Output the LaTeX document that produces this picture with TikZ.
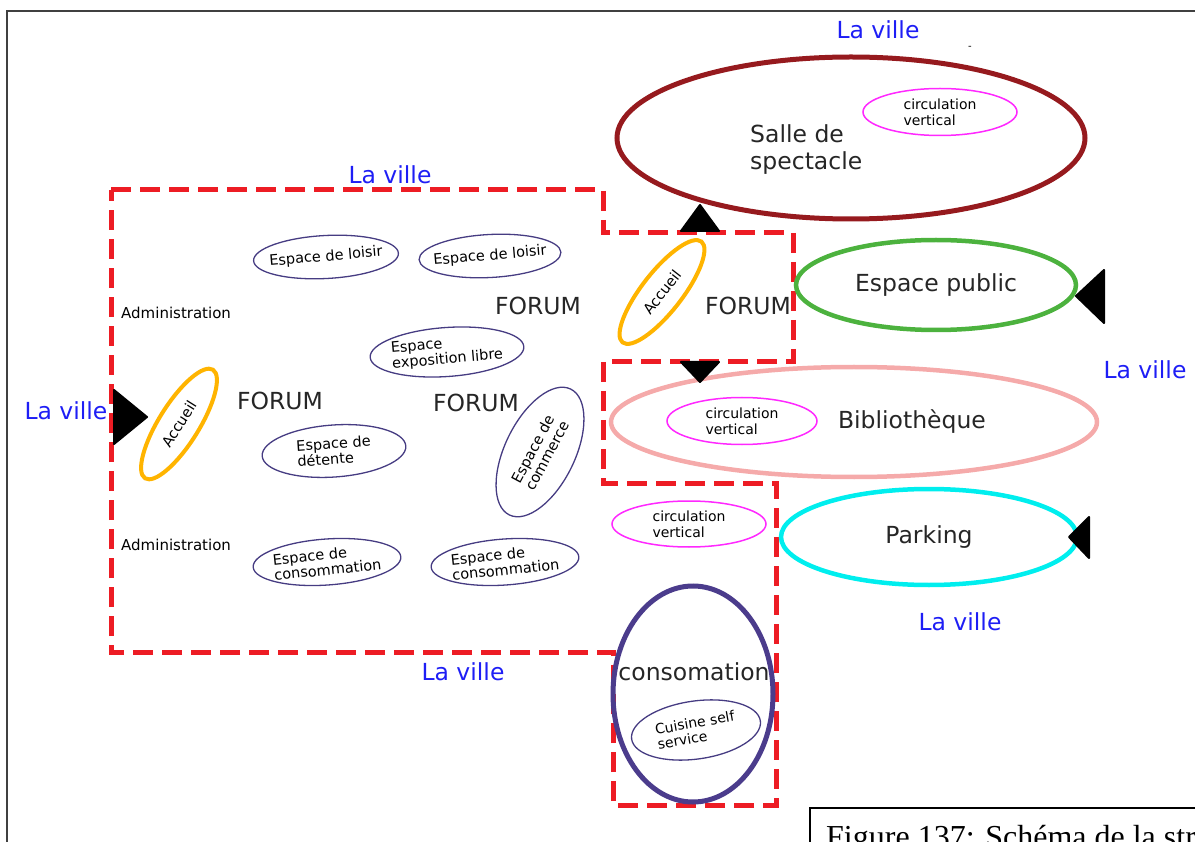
\documentclass[tikz,border=0pt]{standalone}
\usepackage{fontspec}
\setmainfont{DejaVu Sans}
\newfontfamily\capfont{Liberation Serif}
\usetikzlibrary{shapes.geometric}
\definecolor{villeblue}{RGB}{30,30,245}
\definecolor{boundred}{RGB}{237,28,36}
\definecolor{salle}{RGB}{150,26,30}
\definecolor{pubgreen}{RGB}{76,178,62}
\definecolor{bibpink}{RGB}{245,170,170}
\definecolor{parkcyan}{RGB}{0,238,238}
\definecolor{conspurple}{RGB}{75,60,140}
\definecolor{subblue}{RGB}{70,60,130}
\definecolor{accorange}{RGB}{255,180,0}
\definecolor{circmag}{RGB}{255,40,255}
\begin{document}
\begin{tikzpicture}[x=1pt,y=-1pt,
  lbl/.style={text=villeblue, font=\fontsize{23.5}{25}\selectfont, inner sep=0pt},
  big/.style={font=\fontsize{23.5}{27}\selectfont, text=black!85, inner sep=0pt},
  zone/.style={ellipse, draw, inner sep=0pt, line width=4.5pt, font=\fontsize{23.5}{27}\selectfont, text=black!85},
  subE/.style={ellipse, draw=subblue, line width=1.3pt, inner sep=0pt},
  subT/.style={inner sep=0pt, align=left, font=\fontsize{14.5}{15.5}\selectfont},
  circ/.style={ellipse, draw=circmag, line width=1.5pt, inner sep=0pt, align=left, font=\fontsize{14}{16}\selectfont},
  acc/.style={ellipse, draw=accorange, line width=4pt, inner sep=0pt, font=\fontsize{14.5}{15}\selectfont},
  small/.style={font=\fontsize{15}{16}\selectfont, inner sep=0pt},
  entry/.style={fill=black, draw=black, line width=2pt, line join=round},
  boundary/.style={draw=boundred, line width=5pt, dash pattern=on 20pt off 9pt},
]
\useasboundingbox (0,0) rectangle (1195,842);
\clip (0,0) rectangle (1195,842);

% outer frame
\draw[line width=2pt, black!75] (7,842) -- (7,11) -- (1195,11);

% red dashed boundary
\draw[boundary] (111,190) -- (603,190) -- (603,233) -- (793,233) -- (793,362)
  -- (603,362) -- (603,483) -- (776,483) -- (776,805) -- (613,805) -- (613,652)
  -- (111,652) -- cycle;

% labels "La ville"
\node[lbl] (v1) at (878,30) {La ville};
\node[lbl] (v2) at (390,175) {La ville};
\node[lbl] (v3) at (66,411) {La ville};
\node[lbl] (v4) at (1145,370) {La ville};
\node[lbl] (v5) at (960,622) {La ville};
\node[lbl] (v6) at (463,672) {La ville};
\node[font=\fontsize{10}{10}\selectfont, inner sep=0pt] (dashmark) at (970,48) {-};

% Salle de spectacle
\node[zone, draw=salle, line width=5pt, minimum width=468, minimum height=162] (salle) at (851,138) {};
\node[big, align=left, anchor=west] (salleT) at (750,150) {Salle de\\spectacle};
\node[circ, minimum width=154, minimum height=47] (cv1) at (940,112) {circulation\\vertical};

% Espace public
\node[zone, draw=pubgreen, minimum width=280, minimum height=90] (pub) at (936,285) {Espace public};

% Bibliotheque
\node[zone, draw=bibpink, minimum width=486, minimum height=110] (bib) at (854,422) {};
\node[big] (bibT) at (912,422) {Bibliothèque};
\node[circ, minimum width=150, minimum height=47] (cv2) at (742,421) {circulation\\vertical};

% Parking
\node[zone, draw=parkcyan, minimum width=296, minimum height=96] (park) at (929,537) {Parking};
\node[circ, minimum width=154, minimum height=46] (cv3) at (689,524) {circulation\\vertical};

% consomation
\node[zone, draw=conspurple, line width=5pt, minimum width=160, minimum height=216] (cons) at (693,694) {};
\node[big] (consT) at (694,672) {consomation};
\node[subE, rotate=8, minimum width=130, minimum height=58] (cuis) at (696,730) {};
\node[subT, rotate=10, font=\fontsize{14}{15}\selectfont] (cuisT) at (cuis) {Cuisine self\\service};

% entrances
\filldraw[entry] (681,231) -- (700,205) -- (719,231) -- cycle;
\filldraw[entry] (681,362) -- (719,362) -- (700,382) -- cycle;
\filldraw[entry] (114,390) -- (147,417) -- (114,444) -- cycle;
\filldraw[entry] (1104,270) -- (1104,323) -- (1076,296) -- cycle;
\filldraw[entry] (1089,517) -- (1089,558) -- (1069,537) -- cycle;

% Accueil
\node[acc, rotate=58, minimum width=128, minimum height=40] (acc1) at (179,424) {Accueil};
\node[acc, rotate=52, minimum width=128, minimum height=40] (acc2) at (662,292) {Accueil};

% FORUM
\node[big] (f1) at (280,401) {FORUM};
\node[big] (f2) at (476,403) {FORUM};
\node[big] (f3) at (538,306) {FORUM};
\node[big] (f4) at (748,306) {FORUM};

% Administration
\node[small, anchor=west] (adm1) at (121,313) {Administration};
\node[small, anchor=west] (adm2) at (121,545) {Administration};

% sub spaces
\node[subE, rotate=3, minimum width=145, minimum height=43] (lo1) at (326,257) {};
\node[subT, rotate=5] (lo1T) at (lo1) {Espace de loisir};
\node[subE, rotate=3, minimum width=142, minimum height=43] (lo2) at (490,256) {};
\node[subT, rotate=5] (lo2T) at (lo2) {Espace de loisir};
\node[subE, rotate=4, minimum width=154, minimum height=49] (expo) at (447,352) {};
\node[subT, rotate=5] (expoT) at (expo) {Espace\\exposition libre};
\node[subE, rotate=4, minimum width=144, minimum height=52] (det) at (334,451) {};
\node[subT, rotate=4] (detT) at (det) {Espace de\\détente};
\node[subE, rotate=64, minimum width=140, minimum height=70] (com) at (540,452) {};
\node[subT, rotate=62] (comT) at (com) {Espace de\\commerce};
\node[subE, rotate=4, minimum width=148, minimum height=46] (co1) at (327,562) {};
\node[subT, rotate=6] (co1T) at (co1) {Espace de\\consommation};
\node[subE, rotate=4, minimum width=148, minimum height=46] (co2) at (505,562) {};
\node[subT, rotate=6] (co2T) at (co2) {Espace de\\consommation};

% caption box
\draw[line width=1.5pt] (810,842) -- (810,808) -- (1195,808);
\node[anchor=base west, font=\capfont\fontsize{32}{32}\selectfont, inner sep=0pt] (cap) at (826,847) {Figure 137: Schéma de la str};
\end{tikzpicture}
\end{document}
